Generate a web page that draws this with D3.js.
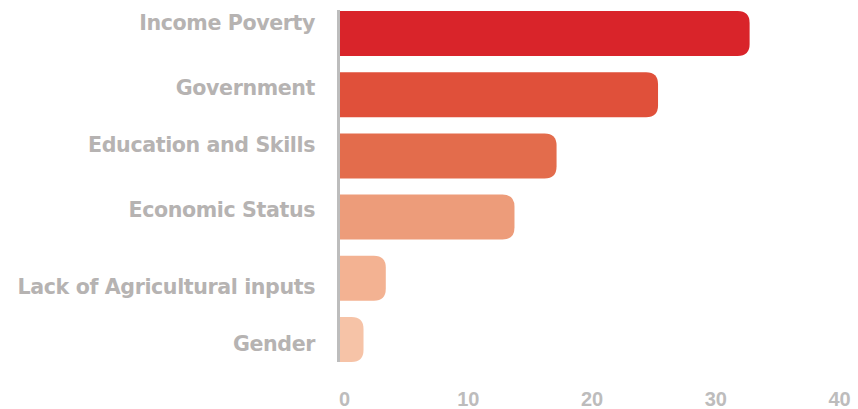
<!DOCTYPE html>
<html>
<head>
<meta charset="utf-8">
<script src="https://cdn.jsdelivr.net/npm/d3@7"></script>
<style>
  html, body { margin: 0; padding: 0; background: #fff; }
  svg { display: block; }
  text { font-weight: bold; }
</style>
</head>
<body>
<svg id="chart" width="858" height="409"></svg>
<script>
// Causes, shown top to bottom
const categories = [
  "Income Poverty",
  "Government",
  "Education and Skills",
  "Economic Status",
  "Lack of Agricultural inputs",
  "Gender"
];
const values = [33.1, 25.7, 17.5, 14.1, 3.7, 1.9];
const tickValues = [0, 10, 20, 30, 40];
const barColors = ["#d9242a", "#e0503a", "#e36c4c", "#ed9c7a", "#f3b292", "#f6c3a7"];

const svg = d3.select("#chart");

const x = d3.scaleLinear().domain([0, 40]).range([340, 835]);
const y = d3.scaleBand().domain(categories).range([11, 362])
  .paddingInner(0.265).paddingOuter(0);

// Label baseline offsets relative to each bar's centre
const labelShift = [-3, 0.5, -4, 0, 15.5, 11];

// Bars: square at the axis, rounded at the far end
const r = 12;
function barPath(v, top, h) {
  const x0 = x(0), x1 = x(v);
  const rr = Math.min(r, (x1 - x0), h / 2);
  return `M${x0},${top}H${x1 - rr}Q${x1},${top} ${x1},${top + rr}` +
         `V${top + h - rr}Q${x1},${top + h} ${x1 - rr},${top + h}H${x0}Z`;
}

svg.append("g").selectAll("path")
  .data(categories)
  .join("path")
  .attr("d", (c, i) => barPath(values[i], y(c), y.bandwidth()))
  .attr("fill", (c, i) => barColors[i]);

// Vertical axis line
svg.append("line")
  .attr("x1", x(0) - 1.5).attr("x2", x(0) - 1.5)
  .attr("y1", y.range()[0] - 1).attr("y2", y.range()[1])
  .attr("stroke", "#bdbdbd").attr("stroke-width", 3);

// Category labels
svg.append("g").selectAll("text")
  .data(categories)
  .join("text")
  .attr("x", 315)
  .attr("y", (c, i) => y(c) + y.bandwidth() / 2 + labelShift[i])
  .attr("text-anchor", "end")
  .attr("font-family", "DejaVu Sans, sans-serif")
  .attr("font-size", 20.6)
  .attr("letter-spacing", -0.4)
  .attr("fill", "#b6b3b2")
  .text(c => c);

// Bottom value axis (labels only)
const xAxis = d3.axisBottom(x).tickValues(tickValues).tickSize(0).tickPadding(0);
const gx = svg.append("g").attr("transform", "translate(4,0)").call(xAxis);
gx.select(".domain").remove();
gx.selectAll("text")
  .attr("y", 406)
  .attr("dy", null)
  .attr("font-size", 20)
  .attr("font-family", "Liberation Sans, Arial, sans-serif")
  .attr("font-weight", "bold")
  .attr("fill", "#bdbcbc");
</script>
</body>
</html>
